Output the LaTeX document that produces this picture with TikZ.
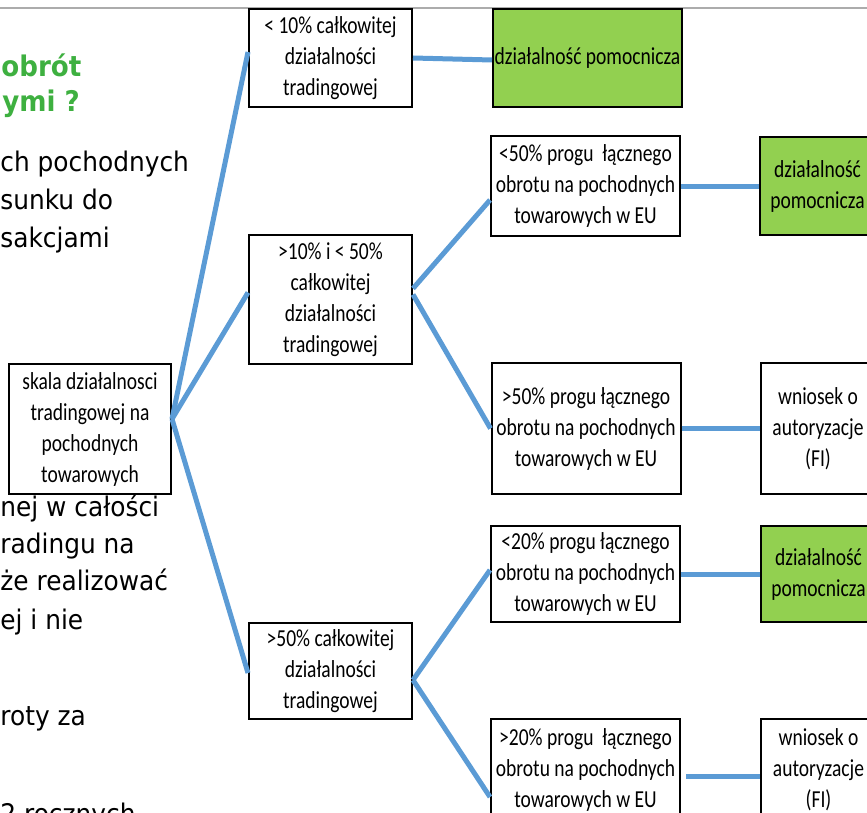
\documentclass[tikz,border=0pt]{standalone}
\usepackage{fontspec}
\setmainfont[FakeStretch=0.8]{Carlito}
\newfontfamily\bgfont[FakeStretch=0.92]{DejaVu Sans}
\usepackage{tikz}
\usetikzlibrary{positioning}
\definecolor{linkblue}{RGB}{91,155,213}
\definecolor{okgreen}{RGB}{146,208,80}
\definecolor{titlegreen}{RGB}{62,176,64}

\begin{document}
\begin{tikzpicture}[x=0.5pt, y=-0.5pt,
  stage/.style={rectangle, draw=black, line width=1pt, fill=white,
                minimum width=81.5pt, align=center, inner sep=0pt,
                font=\fontsize{12.2}{15.5}\selectfont},
  gate/.style={stage, minimum width=94.5pt},
  outcome/.style={stage, minimum width=57.5pt},
  ok/.style={fill=okgreen},
  link/.style={draw=linkblue, line width=2.5pt},
  bgtext/.style={anchor=base west, inner sep=0pt,
                 font=\bgfont\fontsize{13.5}{19}\selectfont},
  bghead/.style={bgtext, text=titlegreen,
                 font=\bgfont\bfseries\fontsize{14.2}{19}\selectfont}
]
  \useasboundingbox (0,0) rectangle (867,813);
  \clip (0,0) rectangle (867,813);
  \coordinate (ruleL) at (0,8);
  \coordinate (ruleR) at (867,8);
  \draw[gray!65, line width=1pt] (ruleL) -- (ruleR);

  \node[bghead] (head1) at (1,77) {obrót};
  \node[bghead] (head2) at (2,112) {ymi ?};
  \foreach \yy/\txt in {171/ch pochodnych, 209/sunku do, 247/sakcjami,
                        516/nej w całości, 553/radingu na, 590/że realizować,
                        629/ej i nie, 725/roty za, 823/2 rocznych}
    \node[bgtext] (bg-\yy) at (0,\yy) {\txt};

  \node[stage, minimum width=81pt, minimum height=65pt] (skala) at (90,429)
    {skala działalnosci\\tradingowej na\\pochodnych\\towarowych};
  \node[stage, minimum height=49pt] (low) at (330.5,58)
    {< 10\% całkowitej\\działalności\\tradingowej};
  \node[stage, minimum height=64.5pt] (mid) at (330.5,299.5)
    {>10\% i < 50\%\\całkowitej\\działalności\\tradingowej};
  \node[stage, minimum height=48pt] (high) at (330.5,671)
    {>50\% całkowitej\\działalności\\tradingowej};

  \node[gate, minimum height=50pt] (midlow) at (585.5,186)
    {<50\% progu~ łącznego\\obrotu na pochodnych\\towarowych w EU};
  \node[gate, minimum height=65.5pt] (midhigh) at (586,428.5)
    {>50\% progu łącznego\\obrotu na pochodnych\\towarowych w EU};
  \node[gate, minimum height=48pt] (highlow) at (585.5,574)
    {<20\% progu łącznego\\obrotu na pochodnych\\towarowych w EU};
  \node[gate, minimum height=51pt] (highhigh) at (585.5,770)
    {>20\% progu~ łącznego\\obrotu na pochodnych\\towarowych w EU};

  \node[gate, ok, minimum height=49pt, right=39.5pt of low] (aux1)
    {działalność pomocnicza};
  \node[outcome, ok, minimum height=49pt, right=39pt of midlow] (aux2)
    {działalność\\pomocnicza};
  \node[outcome, minimum height=65.5pt, right=39pt of midhigh] (fi1)
    {wniosek o\\autoryzacje\\(FI)};
  \node[outcome, ok, minimum height=48pt, right=39.5pt of highlow] (aux3)
    {działalność\\pomocnicza};
  \node[outcome, minimum height=51pt, right=39.5pt of highhigh] (fi2)
    {wniosek o\\autoryzacje\\(FI)};

  \draw[link] ([yshift=5pt]skala.east) -- ([yshift=3pt]low.west);
  \draw[link] ([yshift=5pt]skala.east) -- ([yshift=3.5pt]mid.west);
  \draw[link] ([yshift=5pt]skala.east) -- ([yshift=-1pt]high.west);
  \draw[link] ([yshift=5.5pt]mid.east) -- ([yshift=-7pt]midlow.west);
  \draw[link] ([yshift=2.5pt]mid.east) -- (midhigh.west);
  \draw[link] ([yshift=-4.5pt]high.east) -- ([yshift=2pt]highlow.west);
  \draw[link] ([yshift=-4.5pt]high.east) -- ([yshift=-13.5pt]highhigh.west);
  \draw[link] (low.east) -- ([yshift=-1pt]aux1.west);
  \draw[link] (midlow.east) -- (aux2.west);
  \draw[link] (midhigh.east) -- (fi1.west);
  \draw[link] (highlow.east) -- (aux3.west);
  \draw[link] ([xshift=2.5pt, yshift=-3pt]highhigh.east) -- ([yshift=-3pt]fi2.west);
\end{tikzpicture}
\end{document}
